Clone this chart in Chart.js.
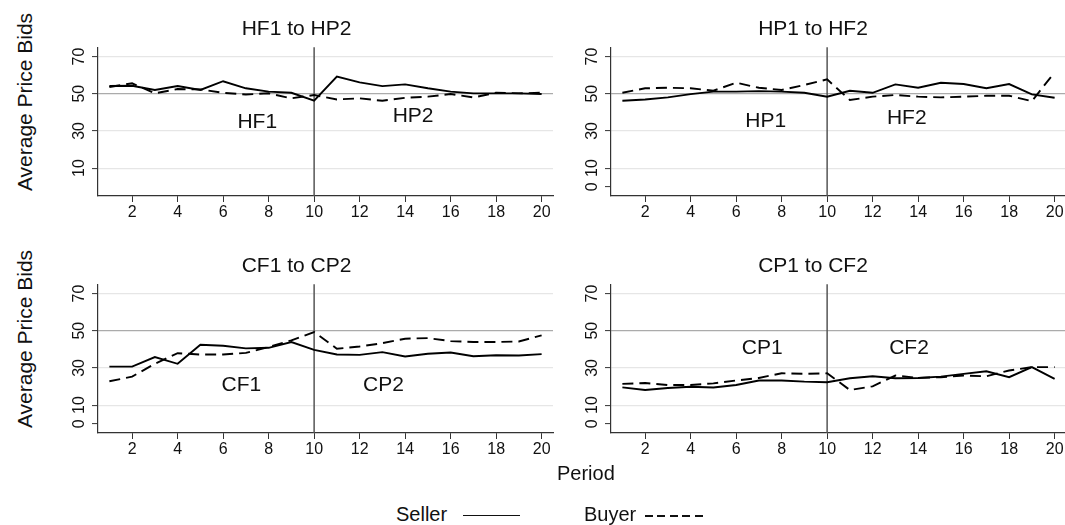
<!DOCTYPE html>
<html>
<head>
<meta charset="utf-8">
<script src="https://cdn.jsdelivr.net/npm/chart.js@4.4.1/dist/chart.umd.min.js"></script>
<style>
  html, body { margin: 0; padding: 0; background: #fff; overflow: hidden; }
  #wrap { position: relative; width: 1065px; height: 525px; font-family: "Liberation Sans", Arial, sans-serif; color: #111; }
  canvas { position: absolute; }
  .ytitle { position: absolute; font-size: 21px; line-height: 1; white-space: nowrap; transform: translate(-50%, -50%) rotate(-90deg); }
  .txt { position: absolute; font-size: 20px; line-height: 20px; white-space: nowrap; }
  .solid { position: absolute; height: 0; border-top: 1.8px solid #111; }
  .dash { position: absolute; height: 1.8px; background: repeating-linear-gradient(90deg, #111 0 8px, transparent 8px 12.4px); }
</style>
</head>
<body>
<div id="wrap">
  <canvas id="tl" width="520" height="230" style="left:40px;top:0px"></canvas>
  <canvas id="tr" width="510" height="230" style="left:560px;top:0px"></canvas>
  <canvas id="bl" width="520" height="230" style="left:40px;top:237px"></canvas>
  <canvas id="br" width="510" height="230" style="left:560px;top:237px"></canvas>

  <div class="ytitle" style="left:23.5px;top:102px">Average Price Bids</div>
  <div class="ytitle" style="left:23.5px;top:339px">Average Price Bids</div>
  <div class="txt" style="left:557px;top:463px">Period</div>
  <div class="txt" style="left:396px;top:504px">Seller</div>
  <div class="solid" style="left:463px;top:515px;width:57px"></div>
  <div class="txt" style="left:584px;top:504px">Buyer</div>
  <div class="dash" style="left:645px;top:515px;width:62px"></div>
</div>

<script>
const periods = [1, 2, 3, 4, 5, 6, 7, 8, 9, 10, 11, 12, 13, 14, 15, 16, 17, 18, 19, 20];
const xTicks = [2, 4, 6, 8, 10, 12, 14, 16, 18, 20];
const yTicksFirst = [10, 30, 50, 70];
const yTicks = [0, 10, 30, 50, 70];
const splitPeriod = 10;

// HF1 to HP2
const hfhpSeller = [54.1, 54.3, 52.0, 54.1, 52.0, 56.7, 52.9, 51.1, 50.5, 46.2,
                    59.2, 56.1, 54.1, 55.0, 52.9, 51.1, 50.2, 50.2, 50.2, 49.8];
const hfhpBuyer  = [53.6, 55.6, 50.2, 52.5, 52.3, 50.5, 49.6, 50.2, 47.5, 49.3,
                    46.9, 47.5, 46.2, 47.8, 48.4, 49.8, 48.0, 50.5, 50.2, 50.5];
// HP1 to HF2
const hphfSeller = [46.2, 46.9, 48.0, 49.8, 51.1, 51.1, 51.4, 51.1, 50.5, 48.4,
                    51.6, 50.5, 55.0, 53.2, 55.9, 55.2, 52.9, 55.2, 49.6, 47.8];
const hphfBuyer  = [50.5, 52.9, 53.2, 52.9, 51.6, 55.9, 53.2, 52.0, 54.7, 57.7,
                    46.6, 48.4, 49.3, 48.4, 48.0, 48.4, 48.9, 48.9, 46.0, 61.5];
// CF1 to CP2
const cfcpSeller = [30.7, 30.7, 35.8, 32.2, 42.4, 41.9, 40.5, 40.8, 43.9, 39.7,
                    37.2, 37.0, 38.5, 36.1, 37.6, 38.3, 36.3, 36.8, 36.7, 37.4];
const cfcpBuyer  = [22.8, 25.3, 32.2, 37.9, 37.2, 37.2, 38.1, 41.2, 44.8, 49.3,
                    40.3, 41.5, 43.3, 45.7, 46.0, 44.4, 43.9, 43.9, 44.2, 47.5];
// CP1 to CF2
const cpcfSeller = [19.5, 18.1, 19.2, 19.9, 19.5, 20.8, 23.2, 23.2, 22.6, 22.3,
                    24.4, 25.5, 24.4, 24.6, 25.3, 26.8, 28.2, 25.0, 30.4, 24.1];
const cpcfBuyer  = [21.4, 21.9, 20.8, 20.8, 21.7, 23.2, 24.6, 27.1, 26.8, 27.1,
                    18.1, 20.1, 25.9, 24.6, 25.0, 25.9, 25.5, 28.6, 30.4, 30.4];

const FONT = '"Liberation Sans", Arial, sans-serif';

function points(vals) {
  return periods.map((p, i) => ({ x: p, y: vals[i] }));
}

function makePanel(id, title, seller, buyer, yTickVals, phases, yWidth, padRight) {
  const marks = {
    id: 'marks_' + id,
    beforeDatasetsDraw(chart) {
      const { ctx, chartArea, scales: { x, y } } = chart;
      const px = x.getPixelForValue(splitPeriod);
      ctx.save();
      ctx.strokeStyle = '#555';
      ctx.lineWidth = 1.5;
      ctx.beginPath();
      ctx.moveTo(px, chartArea.top);
      ctx.lineTo(px, chartArea.bottom);
      ctx.stroke();
      ctx.fillStyle = '#111';
      ctx.font = '21px ' + FONT;
      ctx.textAlign = 'center';
      ctx.textBaseline = 'middle';
      phases.forEach(ph => ctx.fillText(ph.text, x.getPixelForValue(ph.x), y.getPixelForValue(ph.y)));
      ctx.restore();
    }
  };

  return new Chart(document.getElementById(id), {
    type: 'line',
    data: {
      datasets: [
        { label: 'Seller', data: points(seller), borderColor: '#000', borderWidth: 1.9, pointRadius: 0, tension: 0 },
        { label: 'Buyer', data: points(buyer), borderColor: '#000', borderWidth: 1.9, borderDash: [11, 6], pointRadius: 0, tension: 0 }
      ]
    },
    options: {
      responsive: false,
      animation: false,
      devicePixelRatio: 1,
      layout: { padding: { left: 0, right: padRight, top: 0, bottom: 0 } },
      plugins: {
        legend: { display: false },
        tooltip: { enabled: false },
        title: {
          display: true, text: title, color: '#111',
          font: { family: FONT, size: 21, weight: 'normal' },
          padding: { top: 17, bottom: 5 }
        }
      },
      scales: {
        x: {
          type: 'linear', min: 0.5, max: 20.5,
          afterBuildTicks: s => { s.ticks = xTicks.map(v => ({ value: v })); },
          grid: { drawOnChartArea: false, drawTicks: true, tickLength: 6, tickColor: '#333', tickWidth: 1 },
          border: { display: true, color: '#333', width: 1.2 },
          ticks: { font: { family: FONT, size: 16 }, color: '#111', padding: 1, maxRotation: 0, autoSkip: false },
          afterFit: s => { s.height = 34; s.paddingLeft = 0; s.paddingRight = 0; }
        },
        y: {
          type: 'linear', min: -5, max: 75,
          afterBuildTicks: s => { s.ticks = yTickVals.map(v => ({ value: v })); },
          grid: {
            color: c => {
              const v = c.tick ? c.tick.value : null;
              if (v === 50) return '#ababab';
              if (v === 0) return 'rgba(0,0,0,0)';
              return '#e6e6e6';
            },
            lineWidth: 1.2, drawTicks: true, tickLength: 6, tickColor: '#333', tickWidth: 1
          },
          border: { display: true, color: '#333', width: 1.2 },
          ticks: {
            font: { family: FONT, size: 16 }, color: '#111', padding: 4,
            minRotation: 90, maxRotation: 90, crossAlign: 'center', autoSkip: false
          },
          afterFit: s => { s.width = yWidth; s.paddingTop = 0; s.paddingBottom = 0; }
        }
      }
    },
    plugins: [marks]
  });
}

makePanel('tl', 'HF1 to HP2', hfhpSeller, hfhpBuyer, yTicksFirst,
  [{ text: 'HF1', x: 7.5, y: 34.7 }, { text: 'HP2', x: 14.35, y: 38 }], 58, 7);
makePanel('tr', 'HP1 to HF2', hphfSeller, hphfBuyer, yTicks,
  [{ text: 'HP1', x: 7.3, y: 35.3 }, { text: 'HF2', x: 13.5, y: 36.9 }], 51, 4);
makePanel('bl', 'CF1 to CP2', cfcpSeller, cfcpBuyer, yTicks,
  [{ text: 'CF1', x: 6.8, y: 20.7 }, { text: 'CP2', x: 13.05, y: 20.7 }], 58, 7);
makePanel('br', 'CP1 to CF2', cpcfSeller, cpcfBuyer, yTicks,
  [{ text: 'CP1', x: 7.15, y: 40.6 }, { text: 'CF2', x: 13.6, y: 40.4 }], 51, 4);
</script>
</body>
</html>
